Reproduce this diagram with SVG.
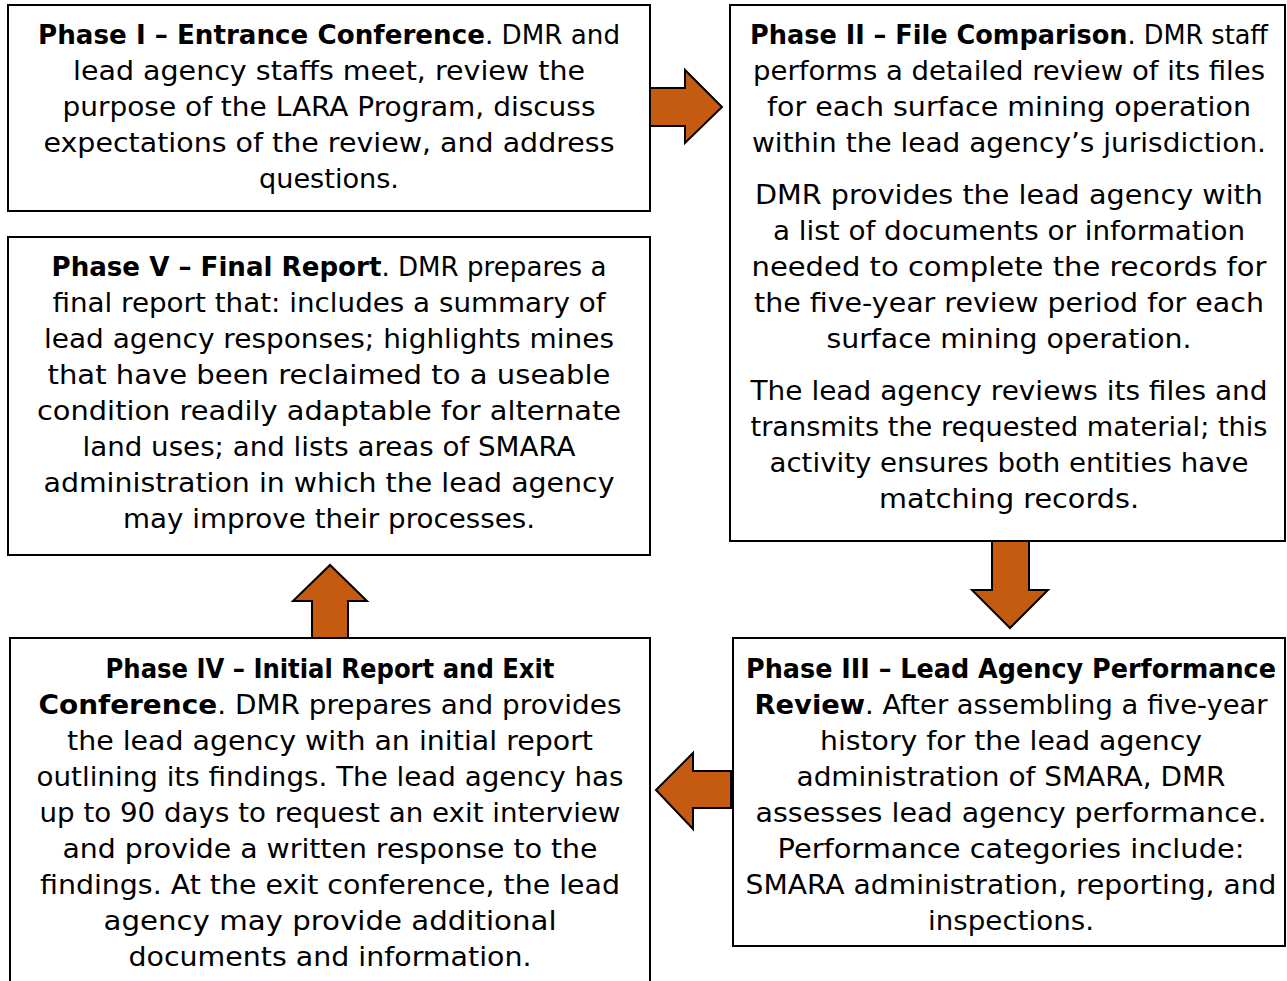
<svg xmlns="http://www.w3.org/2000/svg" width="1287" height="981" viewBox="0 0 1287 981">
<style>
.box{fill:#fff;stroke:#000;stroke-width:2}
.arr{fill:#C55A11;stroke:#000;stroke-width:2;stroke-linejoin:miter}
text{font-family:"DejaVu Sans","Liberation Sans",sans-serif;font-size:26px;fill:#000;text-anchor:middle}
.b{font-weight:bold}
</style>
<rect width="1287" height="981" fill="#fff"/>
<g id="connectors">
<polygon class="arr" points="648,88 685,88 685,70 722,107 685,143 685,126 648,126"/>
<polygon class="arr" points="992,541 1029,541 1029,590 1048,590 1010,628 972,590 992,590"/>
<polygon class="arr" points="731,771 693,771 693,753 656,790 693,829 693,808 731,808"/>
<polygon class="arr" points="312,638 312,601 293,601 330,565 367,601 348,601 348,638"/>
</g>
<g id="phase1">
<rect class="box" x="8" y="5" width="642" height="206"/>
<text x="329" y="44" textLength="582" lengthAdjust="spacingAndGlyphs"><tspan class="b">Phase I – Entrance Conference</tspan>. DMR and</text>
<text x="329" y="80" textLength="512" lengthAdjust="spacingAndGlyphs">lead agency staffs meet, review the</text>
<text x="329" y="116" textLength="533" lengthAdjust="spacingAndGlyphs">purpose of the LARA Program, discuss</text>
<text x="329" y="152" textLength="571" lengthAdjust="spacingAndGlyphs">expectations of the review, and address</text>
<text x="329" y="188" textLength="140" lengthAdjust="spacingAndGlyphs">questions.</text>
</g>
<g id="phase2">
<rect class="box" x="730" y="5" width="555" height="536"/>
<text x="1009" y="44" textLength="518" lengthAdjust="spacingAndGlyphs"><tspan class="b">Phase II – File Comparison</tspan>. DMR staff</text>
<text x="1009" y="80" textLength="512" lengthAdjust="spacingAndGlyphs">performs a detailed review of its files</text>
<text x="1009" y="116" textLength="484" lengthAdjust="spacingAndGlyphs">for each surface mining operation</text>
<text x="1009" y="152" textLength="514" lengthAdjust="spacingAndGlyphs">within the lead agency’s jurisdiction.</text>
<text x="1009" y="204" textLength="508" lengthAdjust="spacingAndGlyphs">DMR provides the lead agency with</text>
<text x="1009" y="240" textLength="472" lengthAdjust="spacingAndGlyphs">a list of documents or information</text>
<text x="1009" y="276" textLength="515" lengthAdjust="spacingAndGlyphs">needed to complete the records for</text>
<text x="1009" y="312" textLength="510" lengthAdjust="spacingAndGlyphs">the five-year review period for each</text>
<text x="1009" y="348" textLength="365" lengthAdjust="spacingAndGlyphs">surface mining operation.</text>
<text x="1009" y="400" textLength="517" lengthAdjust="spacingAndGlyphs">The lead agency reviews its files and</text>
<text x="1009" y="436" textLength="517" lengthAdjust="spacingAndGlyphs">transmits the requested material; this</text>
<text x="1009" y="472" textLength="479" lengthAdjust="spacingAndGlyphs">activity ensures both entities have</text>
<text x="1009" y="508" textLength="260" lengthAdjust="spacingAndGlyphs">matching records.</text>
</g>
<g id="phase5">
<rect class="box" x="8" y="237" width="642" height="318"/>
<text x="329" y="276" textLength="555" lengthAdjust="spacingAndGlyphs"><tspan class="b">Phase V – Final Report</tspan>. DMR prepares a</text>
<text x="329" y="312" textLength="553" lengthAdjust="spacingAndGlyphs">final report that: includes a summary of</text>
<text x="329" y="348" textLength="570" lengthAdjust="spacingAndGlyphs">lead agency responses; highlights mines</text>
<text x="329" y="384" textLength="563" lengthAdjust="spacingAndGlyphs">that have been reclaimed to a useable</text>
<text x="329" y="420" textLength="584" lengthAdjust="spacingAndGlyphs">condition readily adaptable for alternate</text>
<text x="329" y="456" textLength="493" lengthAdjust="spacingAndGlyphs">land uses; and lists areas of SMARA</text>
<text x="329" y="492" textLength="571" lengthAdjust="spacingAndGlyphs">administration in which the lead agency</text>
<text x="329" y="528" textLength="412" lengthAdjust="spacingAndGlyphs">may improve their processes.</text>
</g>
<g id="phase4">
<rect class="box" x="10" y="638" width="640" height="360"/>
<text x="330" y="678" textLength="449" lengthAdjust="spacingAndGlyphs" class="b">Phase IV – Initial Report and Exit</text>
<text x="330" y="714" textLength="583" lengthAdjust="spacingAndGlyphs"><tspan class="b">Conference</tspan>. DMR prepares and provides</text>
<text x="330" y="750" textLength="526" lengthAdjust="spacingAndGlyphs">the lead agency with an initial report</text>
<text x="330" y="786" textLength="587" lengthAdjust="spacingAndGlyphs">outlining its findings. The lead agency has</text>
<text x="330" y="822" textLength="581" lengthAdjust="spacingAndGlyphs">up to 90 days to request an exit interview</text>
<text x="330" y="858" textLength="535" lengthAdjust="spacingAndGlyphs">and provide a written response to the</text>
<text x="330" y="894" textLength="580" lengthAdjust="spacingAndGlyphs">findings. At the exit conference, the lead</text>
<text x="330" y="930" textLength="453" lengthAdjust="spacingAndGlyphs">agency may provide additional</text>
<text x="330" y="966" textLength="403" lengthAdjust="spacingAndGlyphs">documents and information.</text>
</g>
<g id="phase3">
<rect class="box" x="733" y="638" width="552" height="308"/>
<text x="1011" y="678" textLength="530" lengthAdjust="spacingAndGlyphs" class="b">Phase III – Lead Agency Performance</text>
<text x="1011" y="714" textLength="513" lengthAdjust="spacingAndGlyphs"><tspan class="b">Review</tspan>. After assembling a five-year</text>
<text x="1011" y="750" textLength="382" lengthAdjust="spacingAndGlyphs">history for the lead agency</text>
<text x="1011" y="786" textLength="429" lengthAdjust="spacingAndGlyphs">administration of SMARA, DMR</text>
<text x="1011" y="822" textLength="511" lengthAdjust="spacingAndGlyphs">assesses lead agency performance.</text>
<text x="1011" y="858" textLength="467" lengthAdjust="spacingAndGlyphs">Performance categories include:</text>
<text x="1011" y="894" textLength="531" lengthAdjust="spacingAndGlyphs">SMARA administration, reporting, and</text>
<text x="1011" y="930" textLength="166" lengthAdjust="spacingAndGlyphs">inspections.</text>
</g>
</svg>
